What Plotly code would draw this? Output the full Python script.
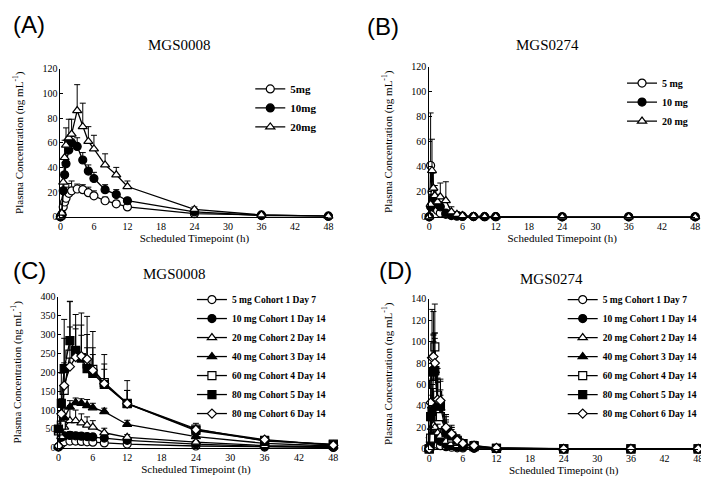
import plotly.graph_objects as go

# ---------------- Data ----------------
# Panel A: MGS0008 single dose
tA = [0, 0.25, 0.5, 0.75, 1, 1.5, 2, 3, 4, 5, 6, 8, 10, 12, 24, 36, 48]
A_5mg = [0, 1, 8, 12, 15, 19, 21, 22.5, 22, 19.5, 17, 13, 10.5, 8, 2.5, 1.5, 0.5]
A_5mg_sd = [0, 0.5, 3, 6, 9, 8, 8, 4, 4, 4.5, 4, 3, 2.5, 2, 1, 0.5, 0.3]
A_10mg = [0, 2, 21, 34, 43, 54, 60, 57, 46, 37, 31, 22, 18, 13, 4, 1, 0.5]
A_10mg_sd = [0, 1, 6, 10, 19, 11, 5, 7, 6, 5, 5, 4, 4, 2, 1, 0.5, 0.3]
A_20mg = [0, 3, 28, 48, 58, 64, 67, 86, 73, 61, 55, 42, 34, 24.5, 6, 1.5, 0.5]
A_20mg_sd = [0, 2, 8, 14, 14, 15, 12, 21, 19, 12, 11, 9, 6, 4.5, 2, 0.5, 0.3]

# Panel B: MGS0274 single dose
tB = [0, 0.25, 0.5, 0.75, 1, 1.5, 2, 3, 4, 5, 6, 8, 10, 12, 24, 36, 48]
B_5mg = [0, 41, 20, 10, 7, 5, 3, 2, 1, 0.5, 0.3, 0.2, 0.1, 0.1, 0, 0, 0]
B_5mg_sd = [0, 42, 15, 6, 4, 3, 2, 1, 0.5, 0.3, 0.2, 0.1, 0.1, 0.1, 0, 0, 0]
B_10mg = [0, 8, 10, 15, 14, 10, 8, 3, 1.5, 1, 0.5, 0.2, 0.1, 0.1, 0, 0, 0]
B_10mg_sd = [0, 5, 6, 8, 7, 5, 4, 2, 1, 0.5, 0.3, 0.1, 0.1, 0, 0, 0, 0]
B_20mg = [0, 10, 37, 23, 17, 12, 16, 13, 4, 2, 1, 0.5, 0.2, 0.1, 0, 0, 0]
B_20mg_sd = [0, 8, 25, 12, 8, 6, 11, 15, 4, 2, 1, 0.4, 0.2, 0.1, 0, 0, 0]

# Panel C: MGS0008 multiple dose
tC = [0, 0.5, 1, 2, 3, 4, 5, 6, 8, 12, 24, 36, 48]
C_5 = [2, 10, 16, 18, 18, 17, 16, 15, 13, 10, 5, 2, 1]
C_5_sd = [1, 4, 5, 5, 5, 5, 4, 4, 3, 3, 2, 1, 0.5]
C_10 = [3, 28, 32, 33, 32, 31, 30, 29, 26, 20, 10, 4, 2]
C_10_sd = [2, 8, 9, 10, 9, 9, 8, 8, 7, 5, 3, 1, 1]
C_20 = [3, 30, 55, 72, 72, 66, 60, 55, 40, 28, 15, 6, 3]
C_20_sd = [2, 15, 35, 40, 28, 24, 22, 17, 12, 7, 4, 2, 1]
C_40 = [5, 60, 80, 108, 120, 118, 112, 106, 96, 62, 30, 12, 5]
C_40_sd = [3, 20, 25, 17, 12, 12, 16, 12, 9, 11, 8, 3, 2]
C_60 = [45, 60, 152, 248, 258, 238, 222, 208, 173, 118, 50, 18, 10]
C_60_sd = [10, 30, 188, 140, 95, 119, 126, 100, 74, 60, 15, 7, 3]
C_80c5 = [50, 118, 210, 284, 255, 238, 210, 197, 168, 117, 46, 20, 8]
C_80c5_sd = [15, 80, 80, 103, 60, 60, 55, 50, 40, 35, 12, 5, 2]
C_80c6 = [5, 90, 165, 215, 240, 243, 235, 205, 170, 117, 48, 22, 7]
C_80c6_sd = [5, 40, 60, 105, 85, 82, 65, 60, 52, 35, 9, 5, 2]

# Panel D: MGS0274 multiple dose
tD = [0, 0.25, 0.5, 0.75, 1, 1.5, 2, 3, 4, 5, 6, 8, 12, 24, 36, 48]
D_5 = [0, 2, 4, 5, 5, 4, 3, 2, 1.5, 1, 0.8, 0.5, 0.2, 0, 0, 0]
D_5_sd = [0, 1, 2, 2, 2, 2, 1.5, 1, 1, 0.5, 0.5, 0.3, 0.1, 0, 0, 0]
D_10 = [0, 5, 10, 12, 11, 9, 7, 4, 3, 2, 1.5, 1, 0.3, 0, 0, 0]
D_10_sd = [0, 3, 5, 5, 5, 4, 3, 2, 1.5, 1, 1, 0.5, 0.2, 0, 0, 0]
D_20 = [0, 8, 20, 22, 20, 15, 12, 7, 5, 3, 2, 1, 0.3, 0, 0, 0]
D_20_sd = [0, 5, 10, 12, 10, 8, 7, 5, 4, 2, 1.5, 1, 0.2, 0, 0, 0]
D_40 = [0, 12, 40, 70, 73, 45, 38, 20, 12, 7, 5, 2, 0.5, 0, 0, 0]
D_40_sd = [0, 8, 25, 30, 30, 20, 27, 12, 8, 5, 3, 1.5, 0.3, 0, 0, 0]
D_60 = [0, 10, 30, 60, 95, 50, 30, 17, 10, 7, 5, 2, 0.5, 0, 0, 0]
D_60_sd = [0, 8, 30, 46, 40, 25, 20, 10, 8, 5, 3, 5, 0.3, 0, 0, 0]
D_80c5 = [0, 30, 35, 72, 73, 42, 40, 15, 12, 8, 5, 3, 0.5, 0, 0, 0]
D_80c5_sd = [0, 20, 25, 35, 35, 20, 15, 10, 8, 5, 3, 2, 0.3, 0, 0, 0]
D_80c6 = [0, 43, 85, 86, 80, 46, 45, 20, 14, 8, 5, 3, 1, 0, 0, 0]
D_80c6_sd = [0, 30, 45, 42, 28, 20, 18, 10, 8, 5, 3, 2, 0.5, 0, 0, 0]

x_ticks = [0, 6, 12, 18, 24, 30, 36, 42, 48]
cohort_names = ["5 mg Cohort 1 Day 7", "10 mg Cohort 1 Day 14", "20 mg Cohort 2 Day 14",
                "40 mg Cohort 3 Day 14", "60 mg Cohort 4 Day 14", "80 mg Cohort 5 Day 14",
                "80 mg Cohort 6 Day 14"]

# ---------------- Styles ----------------
SERIF = "Liberation Serif"
BLACK = "black"
STYLES = {
    "oc": dict(symbol="circle", color="white", size=8),
    "fc": dict(symbol="circle", color=BLACK, size=8),
    "ot": dict(symbol="triangle-up", color="white", size=8),
    "ft": dict(symbol="triangle-up", color=BLACK, size=8),
    "os": dict(symbol="square", color="white", size=8),
    "fs": dict(symbol="square", color=BLACK, size=8),
    "od": dict(symbol="diamond", color="white", size=7),
}

fig = go.Figure()


def add(t, y, sd, name, style, xa, ya, legend):
    st = STYLES[style]
    fig.add_trace(go.Scatter(
        x=t, y=y, name=name, mode="lines+markers",
        xaxis=xa, yaxis=ya, legend=legend, cliponaxis=False,
        line=dict(color=BLACK, width=1.3),
        marker=dict(symbol=st["symbol"], size=st["size"], color=st["color"],
                    line=dict(color=BLACK, width=1.2)),
        error_y=dict(type="data", symmetric=False, array=sd,
                     arrayminus=[0] * len(sd), color=BLACK, thickness=1, width=3),
    ))


add(tA, A_5mg, A_5mg_sd, "5mg", "oc", "x", "y", "legend")
add(tA, A_10mg, A_10mg_sd, "10mg", "fc", "x", "y", "legend")
add(tA, A_20mg, A_20mg_sd, "20mg", "ot", "x", "y", "legend")

add(tB, B_5mg, B_5mg_sd, "5 mg", "oc", "x2", "y2", "legend2")
add(tB, B_10mg, B_10mg_sd, "10 mg", "fc", "x2", "y2", "legend2")
add(tB, B_20mg, B_20mg_sd, "20 mg", "ot", "x2", "y2", "legend2")

C_series = [(C_5, C_5_sd, "oc"), (C_10, C_10_sd, "fc"), (C_20, C_20_sd, "ot"),
            (C_40, C_40_sd, "ft"), (C_60, C_60_sd, "os"), (C_80c5, C_80c5_sd, "fs"),
            (C_80c6, C_80c6_sd, "od")]
for (y, sd, st), nm in zip(C_series, cohort_names):
    add(tC, y, sd, nm, st, "x3", "y3", "legend3")

D_series = [(D_5, D_5_sd, "oc"), (D_10, D_10_sd, "fc"), (D_20, D_20_sd, "ot"),
            (D_40, D_40_sd, "ft"), (D_60, D_60_sd, "os"), (D_80c5, D_80c5_sd, "fs"),
            (D_80c6, D_80c6_sd, "od")]
for (y, sd, st), nm in zip(D_series, cohort_names):
    add(tD, y, sd, nm, st, "x4", "y4", "legend4")

W, H = 709, 480


def px2x(p):
    return p / W


def px2y(p):
    return 1 - p / H


ytitle = "Plasma Concentration (ng mL<sup>-1</sup>)"
xtitle = "Scheduled Timepoint (h)"


def xaxis(dom, anchor):
    return dict(domain=dom, anchor=anchor, range=[0, 48], tickvals=x_ticks,
                showline=True, linecolor=BLACK, linewidth=1, ticks="", ticklen=0,
                showgrid=False, zeroline=False,
                tickfont=dict(family=SERIF, size=10, color=BLACK),
                title=dict(text=xtitle, font=dict(family=SERIF, size=11, color=BLACK), standoff=1))


def yaxis(dom, anchor, rng, dtick):
    return dict(domain=dom, anchor=anchor, range=rng, dtick=dtick,
                showline=True, linecolor=BLACK, linewidth=1, ticks="inside",
                ticklen=3, tickcolor=BLACK, showgrid=False, zeroline=False,
                tickfont=dict(family=SERIF, size=10, color=BLACK),
                title=dict(text=ytitle, font=dict(family=SERIF, size=11, color=BLACK), standoff=16))


def legend(xpx, ypx, size):
    return dict(x=px2x(xpx), y=px2y(ypx), xanchor="left", yanchor="top",
                bgcolor="rgba(0,0,0,0)", borderwidth=0,
                font=dict(family=SERIF, size=size, color=BLACK, weight="bold"),
                itemwidth=30, tracegroupgap=0)


fig.update_layout(
    width=W, height=H, margin=dict(l=0, r=0, t=0, b=0),
    paper_bgcolor="white", plot_bgcolor="white", showlegend=True,
    xaxis=xaxis([px2x(50), px2x(321)], "y"),
    yaxis=yaxis([px2y(208), px2y(56)], "x", [0, 120], 20),
    xaxis2=xaxis([px2x(423), px2x(692)], "y2"),
    yaxis2=yaxis([px2y(208), px2y(54)], "x2", [0, 120], 20),
    xaxis3=xaxis([px2x(48), px2x(326)], "y3"),
    yaxis3=yaxis([px2y(445), px2y(290)], "x3", [0, 400], 50),
    xaxis4=xaxis([px2x(423), px2x(695)], "y4"),
    yaxis4=yaxis([px2y(446), px2y(292)], "x4", [0, 140], 20),
    legend=legend(242, 62, 11),
    legend2=legend(618, 56, 10),
    legend3=legend(183, 278, 9.5),
    legend4=legend(558, 278, 9.5),
)

titles = [("MGS0008", 170, 32), ("MGS0274", 543, 32), ("MGS0008", 165, 267), ("MGS0274", 547, 272)]
for txt, xp, yp in titles:
    fig.add_annotation(text=txt, x=px2x(xp), y=px2y(yp), xref="paper", yref="paper",
                       showarrow=False, xanchor="center", yanchor="middle",
                       font=dict(family=SERIF, size=15, color=BLACK))

labels = [("(A)", 0, 11), ("(B)", 358, 13), ("(C)", 0, 263), ("(D)", 370, 263)]
for txt, xp, yp in labels:
    fig.add_annotation(text=txt, x=px2x(xp), y=px2y(yp), xref="paper", yref="paper",
                       showarrow=False, xanchor="left", yanchor="middle",
                       font=dict(family="Liberation Sans", size=24, color=BLACK))

fig.write_html("out.html")
